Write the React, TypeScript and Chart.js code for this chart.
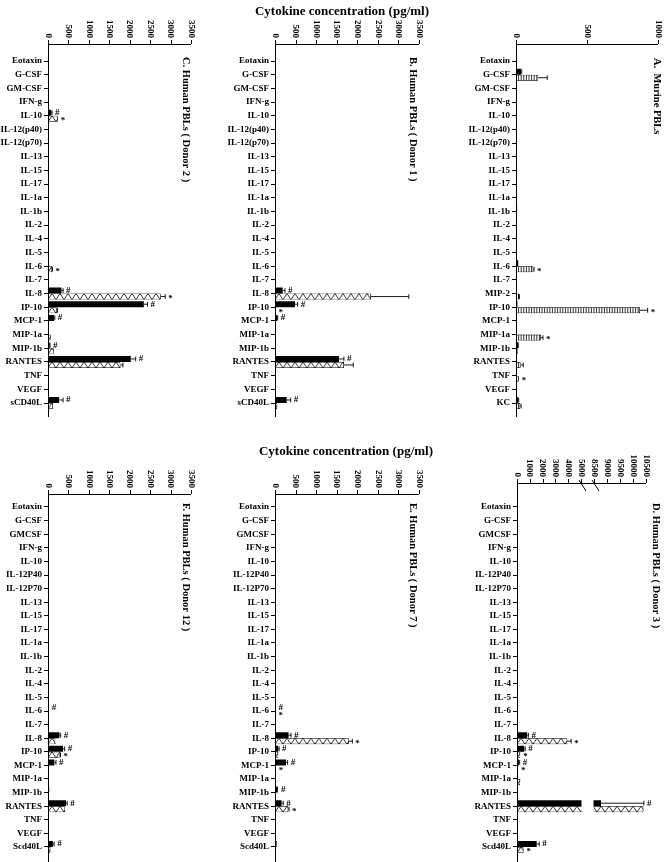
import React, { useEffect, useRef } from 'react';
import { Chart, registerables } from 'chart.js';
Chart.register(...registerables);

const FONT = '"Liberation Serif", "Times New Roman", serif';

// ---------- categories ----------
const humanTopCats = ['Eotaxin','G-CSF','GM-CSF','IFN-g','IL-10','IL-12(p40)','IL-12(p70)','IL-13','IL-15','IL-17','IL-1a','IL-1b','IL-2','IL-4','IL-5','IL-6','IL-7','IL-8','IP-10','MCP-1','MIP-1a','MIP-1b','RANTES','TNF','VEGF','sCD40L'];
const murineCats = ['Eotaxin','G-CSF','GM-CSF','IFN-g','IL-10','IL-12(p40)','IL-12(p70)','IL-13','IL-15','IL-17','IL-1a','IL-1b','IL-2','IL-4','IL-5','IL-6','IL-7','MIP-2','IP-10','MCP-1','MIP-1a','MIP-1b','RANTES','TNF','VEGF','KC'];
const humanBottomCats = ['Eotaxin','G-CSF','GMCSF','IFN-g','IL-10','IL-12P40','IL-12P70','IL-13','IL-15','IL-17','IL-1a','IL-1b','IL-2','IL-4','IL-5','IL-6','IL-7','IL-8','IP-10','MCP-1','MIP-1a','MIP-1b','RANTES','TNF','VEGF','Scd40L'];

// ---------- tick labels ----------
const humanTicks = [0, 500, 1000, 1500, 2000, 2500, 3000, 3500];
const murineTicks = [0, 500, 1000];
const donor3Ticks = [0, 1000, 2000, 3000, 4000, 5000, 8500, 9000, 9500, 10000, 10500];

// ---------- C. Human PBLs (Donor 2) ----------
const cBlack = [5, 3, 2, 10, 80, 2, 2, 2, 2, 2, 2, 3, 15, 2, 2, 10, 2, 330, 2345, 147, 5, 40, 2026, 5, 5, 270];
const cHatch = [2, 2, 2, 5, 240, 2, 2, 2, 2, 2, 2, 2, 5, 2, 2, 100, 2, 2760, 215, 20, 66, 140, 1773, 5, 25, 120];
const cBlackErr = [0, 0, 0, 0, 20, 0, 0, 0, 0, 0, 0, 0, 0, 0, 0, 0, 0, 40, 90, 20, 0, 10, 120, 0, 0, 100];
const cHatchErr = [0, 0, 0, 0, 0, 0, 0, 0, 0, 0, 0, 0, 0, 0, 0, 10, 0, 110, 20, 0, 0, 0, 60, 0, 0, 0];
const cBlackMarks = ['IL-10', 'IL-8', 'IP-10', 'MCP-1', 'MIP-1b', 'RANTES', 'sCD40L'];
const cHatchMarks = ['IL-10', 'IL-6', 'IL-8'];

// ---------- B. Human PBLs (Donor 1) ----------
const bBlack = [2, 2, 2, 3, 10, 2, 2, 2, 2, 2, 2, 3, 3, 2, 2, 5, 2, 187, 486, 56, 3, 10, 1555, 3, 3, 284];
const bHatch = [2, 2, 2, 2, 5, 2, 2, 2, 2, 2, 2, 2, 2, 2, 2, 5, 2, 2333, 10, 5, 5, 25, 1677, 3, 3, 56];
const bBlackErr = [0, 0, 0, 0, 0, 0, 0, 0, 0, 0, 0, 0, 0, 0, 0, 0, 0, 55, 65, 10, 0, 0, 120, 0, 0, 97];
const bHatchErr = [0, 0, 0, 0, 0, 0, 0, 0, 0, 0, 0, 0, 0, 0, 0, 0, 0, 920, 0, 0, 0, 0, 225, 0, 0, 0];
const bBlackMarks = ['IL-8', 'IP-10', 'MCP-1', 'RANTES', 'sCD40L'];
const bHatchMarks = ['IP-10'];

// ---------- A. Murine PBLs ----------
const aBlack = [3, 35, 2, 2, 2, 2, 2, 2, 2, 2, 2, 8, 2, 2, 2, 16, 2, 4, 10, 2, 3, 19, 3, 3, 2, 14];
const aHatch = [2, 157, 2, 4, 3, 2, 2, 2, 2, 2, 2, 4, 2, 2, 2, 122, 2, 21, 873, 3, 176, 12, 33, 19, 2, 30];
const aBlackErr = [0, 5, 0, 0, 0, 0, 0, 0, 0, 0, 0, 0, 0, 0, 0, 0, 0, 0, 0, 0, 0, 0, 0, 0, 0, 5];
const aHatchErr = [0, 63, 0, 0, 0, 0, 0, 0, 0, 0, 0, 0, 0, 0, 0, 5, 0, 3, 54, 0, 14, 0, 18, 0, 0, 6];
const aBlackMarks: string[] = [];
const aHatchMarks = ['IL-6', 'IP-10', 'MIP-1a', 'TNF'];

// ---------- F. Human PBLs (Donor 12) ----------
const fBlack = [2, 2, 2, 2, 2, 2, 2, 2, 2, 2, 2, 2, 2, 2, 2, 20, 2, 280, 367, 155, 2, 30, 440, 2, 10, 120];
const fHatch = [2, 2, 2, 2, 2, 2, 2, 2, 2, 2, 2, 2, 2, 2, 2, 5, 2, 180, 285, 20, 2, 5, 420, 2, 3, 60];
const fBlackErr = [0, 0, 0, 0, 0, 0, 0, 0, 0, 0, 0, 0, 0, 0, 0, 0, 0, 30, 40, 40, 0, 0, 30, 0, 0, 30];
const fHatchErr = [0, 0, 0, 0, 0, 0, 0, 0, 0, 0, 0, 0, 0, 0, 0, 0, 0, 0, 20, 0, 0, 0, 0, 0, 0, 0];
const fBlackMarks = ['IL-6', 'IL-8', 'IP-10', 'MCP-1', 'RANTES', 'Scd40L'];
const fHatchMarks = ['IP-10'];

// ---------- E. Human PBLs (Donor 7) ----------
const eBlack = [2, 2, 2, 2, 2, 2, 2, 2, 2, 2, 2, 2, 2, 2, 2, 15, 2, 330, 80, 267, 5, 70, 160, 2, 2, 40];
const eHatch = [2, 2, 2, 2, 2, 2, 2, 2, 2, 2, 2, 2, 2, 2, 2, 10, 2, 1800, 80, 20, 2, 5, 323, 2, 2, 5];
const eBlackErr = [0, 0, 0, 0, 0, 0, 0, 0, 0, 0, 0, 0, 0, 0, 0, 0, 0, 60, 20, 40, 0, 0, 40, 0, 0, 0];
const eHatchErr = [0, 0, 0, 0, 0, 0, 0, 0, 0, 0, 0, 0, 0, 0, 0, 0, 0, 80, 0, 0, 0, 0, 20, 0, 0, 0];
const eBlackMarks = ['IL-6', 'IL-8', 'IP-10', 'MCP-1', 'MIP-1b', 'RANTES'];
const eHatchMarks = ['IL-6', 'IL-8', 'MCP-1', 'RANTES'];

// ---------- D. Human PBLs (Donor 3) ----------
const dBlack = [2, 2, 2, 2, 2, 2, 2, 2, 2, 2, 2, 2, 2, 2, 2, 10, 2, 790, 560, 150, 5, 50, 8770, 5, 60, 1540];
const dHatch = [2, 2, 2, 2, 2, 2, 2, 2, 2, 2, 2, 2, 2, 2, 2, 5, 2, 3930, 250, 80, 250, 20, 10400, 2, 5, 510];
const dBlackErr = [0, 0, 0, 0, 0, 0, 0, 0, 0, 0, 0, 0, 0, 0, 0, 0, 0, 100, 80, 60, 0, 0, 1650, 0, 0, 200];
const dHatchErr = [0, 0, 0, 0, 0, 0, 0, 0, 0, 0, 0, 0, 0, 0, 0, 0, 0, 300, 0, 0, 0, 0, 0, 0, 0, 0];
const dBlackMarks = ['IL-8', 'IP-10', 'MCP-1', 'RANTES', 'Scd40L'];
const dHatchMarks = ['IL-8', 'IP-10', 'MCP-1', 'Scd40L'];

// broken axis for donor 3: 0-5000 | 8500-10500 (upper segment stretched)
const BREAK_LOW = 5000;
const BREAK_HIGH = 8500;
const BREAK_GAP = 1016;
const UPPER_STRETCH = 2.03;
const brokenAxis = (v: number) =>
  v <= BREAK_LOW ? v : v < BREAK_HIGH ? BREAK_LOW : BREAK_LOW + BREAK_GAP + (v - BREAK_HIGH) * UPPER_STRETCH;
const plainAxis = (v: number) => v;

type PanelDef = {
  key: string; left: number; top: number; width: number; height: number;
  axisX: number; rightX: number; axisY: number; lineBottom: number;
  firstCenter: number; band: number;
  labels: string[]; black: number[]; hatch: number[]; blackErr: number[]; hatchErr: number[];
  blackMarks: string[]; hatchMarks: string[];
  ticks: number[]; max: number; pattern: 'tri' | 'stripe'; title: string; labelX: number; labelY: number;
  toAxis: (v: number) => number; broken?: boolean;
};

const TOP = { top: 0, height: 430, axisY: 44, lineBottom: 417, firstCenter: 61, band: 13.68 };
const BOT = { top: 430, height: 432, axisY: 494, lineBottom: 862, firstCenter: 507, band: 13.6 };

const panels: PanelDef[] = [
  { key: 'C', left: 0, width: 218, axisX: 48, rightX: 191, ...TOP, labels: humanTopCats, black: cBlack, hatch: cHatch, blackErr: cBlackErr, hatchErr: cHatchErr, blackMarks: cBlackMarks, hatchMarks: cHatchMarks, ticks: humanTicks, max: 3500, pattern: 'tri', title: 'C. Human PBLs ( Donor 2 )', labelX: 186, labelY: 57, toAxis: plainAxis },
  { key: 'B', left: 218, width: 222, axisX: 275, rightX: 419, ...TOP, labels: humanTopCats, black: bBlack, hatch: bHatch, blackErr: bBlackErr, hatchErr: bHatchErr, blackMarks: bBlackMarks, hatchMarks: bHatchMarks, ticks: humanTicks, max: 3500, pattern: 'tri', title: 'B. Human PBLs ( Donor 1 )', labelX: 413, labelY: 57, toAxis: plainAxis },
  { key: 'A', left: 440, width: 224, axisX: 516, rightX: 658, ...TOP, labels: murineCats, black: aBlack, hatch: aHatch, blackErr: aBlackErr, hatchErr: aHatchErr, blackMarks: aBlackMarks, hatchMarks: aHatchMarks, ticks: murineTicks, max: 1000, pattern: 'stripe', title: 'A.  Murine PBLs', labelX: 657, labelY: 58, toAxis: plainAxis },
  { key: 'F', left: 0, width: 218, axisX: 48, rightX: 191, ...BOT, labels: humanBottomCats, black: fBlack, hatch: fHatch, blackErr: fBlackErr, hatchErr: fHatchErr, blackMarks: fBlackMarks, hatchMarks: fHatchMarks, ticks: humanTicks, max: 3500, pattern: 'tri', title: 'F. Human PBLs ( Donor 12 )', labelX: 186, labelY: 503, toAxis: plainAxis },
  { key: 'E', left: 218, width: 222, axisX: 275, rightX: 419, ...BOT, labels: humanBottomCats, black: eBlack, hatch: eHatch, blackErr: eBlackErr, hatchErr: eHatchErr, blackMarks: eBlackMarks, hatchMarks: eHatchMarks, ticks: humanTicks, max: 3500, pattern: 'tri', title: 'E. Human PBLs ( Donor 7 )', labelX: 413, labelY: 503, toAxis: plainAxis },
  { key: 'D', left: 440, width: 224, axisX: 517, rightX: 646, ...BOT, axisY: 483, labels: humanBottomCats, black: dBlack, hatch: dHatch, blackErr: dBlackErr, hatchErr: dHatchErr, blackMarks: dBlackMarks, hatchMarks: dHatchMarks, ticks: donor3Ticks, max: brokenAxis(10500), pattern: 'tri', title: 'D. Human PBLs ( Donor 3 )', labelX: 656, labelY: 503, toAxis: brokenAxis, broken: true },
];

function makePlugin(p: PanelDef) {
  const ox = p.left;
  const oy = p.top;
  return {
    id: 'decor' + p.key,
    afterDatasetsDraw(chart: any) {
      const ctx = chart.ctx;
      const xs = chart.scales.x;
      const area = chart.chartArea;
      const px = (v: number) => xs.getPixelForValue(p.toAxis(v));
      ctx.save();
      ctx.strokeStyle = '#000';
      // pattern inside the second series bars
      const m1 = chart.getDatasetMeta(1);
      m1.data.forEach((el: any) => {
        const { x, y, base, height } = el.getProps(['x', 'y', 'base', 'height'], true);
        const x0 = Math.min(base, x);
        const x1 = Math.max(base, x);
        if (x1 - x0 < 2) return;
        const t = y - height / 2;
        const b = y + height / 2;
        ctx.save();
        ctx.beginPath();
        ctx.rect(x0, t, x1 - x0, height);
        ctx.clip();
        ctx.beginPath();
        ctx.lineWidth = 0.8;
        if (p.pattern === 'tri') {
          const per = 8;
          let k = 0;
          for (let xx = x0; xx <= x1 + per; xx += per / 2, k++) {
            const yy = k % 2 === 0 ? b : t;
            if (k === 0) ctx.moveTo(xx, yy);
            else ctx.lineTo(xx, yy);
          }
        } else {
          for (let xx = x0 + 2.6; xx < x1; xx += 2.6) {
            ctx.moveTo(xx, t);
            ctx.lineTo(xx, b);
          }
        }
        ctx.stroke();
        ctx.restore();
      });
      // axis break gap
      if (p.broken) {
        const g0 = xs.getPixelForValue(BREAK_LOW);
        const g1 = xs.getPixelForValue(BREAK_LOW + BREAK_GAP);
        ctx.fillStyle = '#fff';
        ctx.fillRect(g0 + 0.5, area.top, g1 - g0 - 1, area.bottom - area.top);
      }
      // error bars and significance marks
      ctx.lineWidth = 0.9;
      ctx.fillStyle = '#000';
      ctx.font = `bold 9px ${FONT}`;
      ctx.textBaseline = 'middle';
      ctx.textAlign = 'left';
      [0, 1].forEach((di) => {
        const meta = chart.getDatasetMeta(di);
        const vals = di === 0 ? p.black : p.hatch;
        const errs = di === 0 ? p.blackErr : p.hatchErr;
        const marks = di === 0 ? p.blackMarks : p.hatchMarks;
        const sym = di === 0 ? '#' : '*';
        meta.data.forEach((el: any, i: number) => {
          const { x, y, height } = el.getProps(['x', 'y', 'height'], true);
          let end = x;
          if (errs[i] > 0) {
            const xe = px(vals[i] + errs[i]);
            const cap = Math.max(2, height * 0.4);
            ctx.beginPath();
            ctx.moveTo(x, y);
            ctx.lineTo(xe, y);
            ctx.moveTo(xe, y - cap);
            ctx.lineTo(xe, y + cap);
            ctx.stroke();
            end = xe;
          }
          if (marks.includes(p.labels[i])) {
            ctx.fillText(sym, end + 3, y + (di === 1 ? 2 : 0));
          }
        });
      });
      ctx.restore();
    },
    afterDraw(chart: any) {
      const ctx = chart.ctx;
      const xs = chart.scales.x;
      const area = chart.chartArea;
      const ay = p.axisY - oy;
      const ax = area.left;
      ctx.save();
      ctx.strokeStyle = '#000';
      ctx.fillStyle = '#000';
      ctx.lineWidth = 1;
      // value axis (top)
      ctx.beginPath();
      ctx.moveTo(ax, ay + 0.5);
      ctx.lineTo(area.right, ay + 0.5);
      // category axis (left)
      ctx.moveTo(ax + 0.5, ay);
      ctx.lineTo(ax + 0.5, p.lineBottom - oy);
      p.ticks.forEach((t) => {
        const x = Math.round(xs.getPixelForValue(p.toAxis(t))) + 0.5;
        ctx.moveTo(x, ay - 4);
        ctx.lineTo(x, ay);
      });
      ctx.stroke();
      // break marks
      if (p.broken) {
        const g0 = xs.getPixelForValue(BREAK_LOW);
        const g1 = xs.getPixelForValue(BREAK_LOW + BREAK_GAP);
        ctx.beginPath();
        [g0, g1].forEach((g) => {
          ctx.moveTo(g - 2, ay - 3);
          ctx.lineTo(g + 5, ay + 8);
        });
        ctx.stroke();
      }
      // rotated tick labels
      ctx.font = `bold 9px ${FONT}`;
      ctx.textAlign = 'right';
      ctx.textBaseline = 'middle';
      p.ticks.forEach((t) => {
        const x = xs.getPixelForValue(p.toAxis(t));
        ctx.save();
        ctx.translate(x, ay - 6);
        ctx.rotate(Math.PI / 2);
        ctx.fillText(String(t), 0, 0);
        ctx.restore();
      });
      // rotated panel label
      ctx.font = `bold 10.5px ${FONT}`;
      ctx.textAlign = 'left';
      ctx.save();
      ctx.translate(p.labelX - ox, p.labelY - oy);
      ctx.rotate(Math.PI / 2);
      ctx.fillText(p.title, 0, 0);
      ctx.restore();
      ctx.restore();
    },
  };
}

function Panel({ p }: { p: PanelDef }) {
  const ref = useRef<HTMLCanvasElement | null>(null);
  useEffect(() => {
    if (!ref.current) return;
    const n = p.labels.length;
    const padTop = p.firstCenter - p.band / 2 - p.top;
    const padBottom = p.height - (padTop + n * p.band);
    const padRight = p.left + p.width - p.rightX;
    const yWidth = p.axisX - p.left;
    const chart = new Chart(ref.current, {
      type: 'bar',
      data: {
        labels: p.labels,
        datasets: [
          { data: p.black.map(p.toAxis), backgroundColor: '#000', borderWidth: 0, categoryPercentage: 0.88, barPercentage: 1 },
          { data: p.hatch.map(p.toAxis), backgroundColor: '#fff', borderColor: '#000', borderWidth: 0.8, categoryPercentage: 0.88, barPercentage: 1 },
        ],
      },
      options: {
        indexAxis: 'y',
        responsive: false,
        animation: false,
        devicePixelRatio: 1,
        layout: { padding: { top: padTop, bottom: padBottom, left: 0, right: padRight } },
        plugins: { legend: { display: false }, tooltip: { enabled: false }, title: { display: false } },
        scales: {
          x: { type: 'linear', display: false, min: 0, max: p.max },
          y: {
            type: 'category',
            position: 'left',
            offset: true,
            grid: { display: true, drawOnChartArea: false, drawTicks: true, tickLength: 4, color: '#000', offset: false, lineWidth: 1 },
            border: { display: false },
            ticks: { autoSkip: false, color: '#000', padding: 2, font: { family: FONT, size: 9, weight: 'bold' } },
            afterFit: (s: any) => { s.width = yWidth; },
          },
        },
      } as any,
      plugins: [makePlugin(p)],
    });
    return () => chart.destroy();
  }, [p]);
  return (
    <canvas
      ref={ref}
      width={p.width}
      height={p.height}
      style={{ position: 'absolute', left: p.left, top: p.top, width: p.width, height: p.height }}
    />
  );
}

const titleStyle: React.CSSProperties = {
  position: 'absolute',
  width: 300,
  textAlign: 'center',
  font: `bold 13px ${FONT}`,
  lineHeight: '15px',
  color: '#000',
  whiteSpace: 'nowrap',
};

export default function App() {
  return (
    <div style={{ position: 'absolute', left: 0, top: 0, width: 664, height: 862, background: '#fff', overflow: 'hidden' }}>
      {panels.map((p) => (
        <Panel key={p.key} p={p} />
      ))}
      <div style={{ ...titleStyle, left: 192, top: 3 }}>Cytokine concentration (pg/ml)</div>
      <div style={{ ...titleStyle, left: 196, top: 443 }}>Cytokine concentration (pg/ml)</div>
    </div>
  );
}
